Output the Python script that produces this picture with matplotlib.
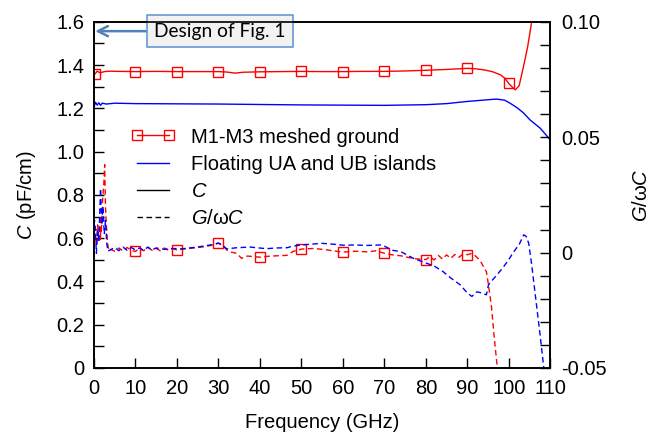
import matplotlib
matplotlib.use("Agg")
import matplotlib.pyplot as plt
from matplotlib.lines import Line2D

plt.rcParams['font.family'] = ['Liberation Sans', 'DejaVu Sans']
plt.rcParams['mathtext.fontset'] = 'custom'
plt.rcParams['mathtext.it'] = 'Liberation Sans:italic'
plt.rcParams['mathtext.rm'] = 'Liberation Sans'

# ---------------- data ----------------
# C of M1-M3 meshed ground (pF/cm)
f_mc = [0.3, 0.8, 1.5, 2.5, 4, 6, 10, 15, 20, 25, 30, 32, 34, 36, 40, 45, 50, 55, 60, 65,
        70, 75, 80, 85, 90, 92, 94, 96, 98, 99, 100, 101, 101.6, 102.5, 103.5, 104.5, 105.6]
c_mc = [1.360, 1.372, 1.364, 1.370, 1.372, 1.371, 1.370, 1.371, 1.370, 1.370, 1.370, 1.368,
        1.363, 1.367, 1.369, 1.370, 1.371, 1.370, 1.370, 1.371, 1.371, 1.373, 1.376, 1.380,
        1.385, 1.383, 1.378, 1.370, 1.355, 1.340, 1.315, 1.295, 1.286, 1.305, 1.390, 1.480, 1.610]

# C of floating UA and UB islands (pF/cm)
f_fc = [0.0, 0.4, 0.8, 1.2, 1.6, 2.0, 3, 5, 10, 20, 30, 40, 50, 60, 70, 80, 85, 90, 95, 97,
        99, 100.3, 102, 103.6, 105.1, 107.6, 110]
c_fc = [1.205, 1.228, 1.215, 1.226, 1.214, 1.224, 1.220, 1.224, 1.222, 1.221, 1.220, 1.218,
        1.216, 1.215, 1.214, 1.217, 1.222, 1.232, 1.240, 1.243, 1.238, 1.224, 1.203, 1.178,
        1.147, 1.108, 1.054]

# G/wC of M1-M3 meshed ground
f_mg = [0.0, 0.3, 0.6, 0.9, 1.2, 1.5, 1.8, 2.1, 2.4, 2.6, 2.8, 3.0, 3.3, 3.6, 4, 5, 6, 7, 8, 9,
        10, 11, 12, 13, 14, 15, 16, 17, 18, 19, 20, 22, 24, 26, 28, 30, 31, 32, 33, 34.4, 35.6,
        37, 40, 42, 44, 46.5, 48, 50, 53, 56, 60, 63, 66, 68, 70, 72, 74, 76, 78, 80, 81, 82,
        83, 84, 85, 86, 87, 88, 89, 90, 91, 92, 93.1, 94.6, 95.1, 95.8, 96.5, 97.3]
g_mg = [0.0060, 0.0081, 0.0030, 0.0120, 0.0050, 0.0160, 0.0085, 0.0230, 0.0300, 0.0381,
        0.0200, 0.0120, 0.0040, 0.0008, 0.0014, 0.0006, 0.0020, 0.0008, 0.0022, 0.0010,
        0.0005, 0.0018, 0.0008, 0.0022, 0.0010, 0.0018, 0.0008, 0.0020, 0.0010, 0.0016,
        0.0012, 0.0016, 0.0020, 0.0024, 0.0030, 0.0040, 0.0032, 0.0012, 0.0002, -0.0003,
        -0.0025, -0.0015, -0.0020, -0.0016, -0.0014, -0.0012, 0.0005, 0.0015, 0.0018, 0.0012,
        0.0002, 0.0006, 0.0003, 0.0008, -0.0003, -0.0010, -0.0014, -0.0022, -0.0028, -0.0030,
        -0.0018, -0.0032, -0.0012, -0.0028, -0.0010, -0.0025, -0.0008, -0.0020, -0.0006,
        -0.0009, -0.0004, -0.0015, -0.0035, -0.0083, -0.0140, -0.0230, -0.0370, -0.0510]

# G/wC of floating UA and UB islands
f_fg = [0.0, 0.3, 0.6, 0.9, 1.2, 1.6, 1.9, 2.2, 2.5, 2.8, 3.1, 3.4, 4, 5, 6, 7, 8, 9, 10, 11,
        12, 13, 14, 15, 17, 19, 21, 23, 25, 27, 29, 30, 31, 32, 34.4, 37.6, 41.6, 44, 46.5, 48,
        50, 52, 55, 58, 60, 63, 66, 69, 70, 72, 74, 77, 80, 82, 84.2, 86, 88.3, 90, 91.1, 92.3,
        93.5, 94.6, 95.1, 96, 97, 98.8, 100, 101.2, 102.5, 103.6, 104.2, 104.8, 105.5, 106.5,
        107.5, 108.5]
g_fg = [0.0156, 0.0120, -0.0003, 0.0100, 0.0050, 0.0278, 0.0120, 0.0200, 0.0080, 0.0140,
        0.0040, 0.0006, 0.0012, 0.0022, 0.0008, 0.0024, 0.0010, 0.0022, 0.0012, 0.0020,
        0.0010, 0.0024, 0.0012, 0.0020, 0.0014, 0.0018, 0.0016, 0.0020, 0.0024, 0.0030,
        0.0036, 0.0042, 0.0032, 0.0016, 0.0021, 0.0024, 0.0017, 0.0020, 0.0021, 0.0028,
        0.0033, 0.0036, 0.0040, 0.0036, 0.0032, 0.0033, 0.0031, 0.0033, 0.0028, 0.0010,
        0.0004, -0.0025, -0.0045, -0.0058, -0.0083, -0.0110, -0.0140, -0.0175, -0.0190,
        -0.0170, -0.0175, -0.0183, -0.0140, -0.0120, -0.0100, -0.0060, -0.0030, 0.0004,
        0.0035, 0.0077, 0.0070, 0.0040, -0.0050, -0.0200, -0.0350, -0.0510]

marker_freqs = [0.3, 10, 20, 30, 40, 50, 60, 70, 80, 90, 100]

series_labels = ["M1-M3 meshed ground", "Floating UA and UB islands", "$C$", "$G$/\u03c9$C$"]
x_ticks = list(range(0, 111, 10))
c_ticks = [0, 0.2, 0.4, 0.6, 0.8, 1.0, 1.2, 1.4, 1.6]
c_tick_labels = ["0", "0.2", "0.4", "0.6", "0.8", "1.0", "1.2", "1.4", "1.6"]
g_ticks = [-0.05, 0, 0.05, 0.10]
g_tick_labels = ["-0.05", "0", "0.05", "0.10"]


def mark_idx(freqs):
    return [i for i, f in enumerate(freqs) if f in marker_freqs]


RED = '#ff0000'
BLUE = '#0000ff'
FS = 14.5

fig = plt.figure(figsize=(6.52, 4.37), dpi=100)
ax = fig.add_axes([0.144, 0.158, 0.700, 0.792])
ax2 = ax.twinx()

mk = dict(marker='s', markersize=6.5, markerfacecolor='none', markeredgewidth=1.0)
ax.plot(f_mc, c_mc, color=RED, lw=1.0, markevery=mark_idx(f_mc), **mk)
ax.plot(f_fc, c_fc, color=BLUE, lw=1.0)
ax2.plot(f_mg, g_mg, color=RED, lw=1.0, dashes=(4, 2.5), markevery=mark_idx(f_mg), **mk)
ax2.plot(f_fg, g_fg, color=BLUE, lw=1.0, dashes=(4, 2.5))

ax.set_xlim(0, 110)
ax.set_ylim(0, 1.6)
ax2.set_ylim(-0.05, 0.10)

ax.set_xticks(x_ticks)
ax.set_yticks(c_ticks)
ax.set_yticklabels(c_tick_labels)
ax.set_yticks([0.1, 0.3, 0.5, 0.7, 0.9, 1.1, 1.3, 1.5], minor=True)
ax2.set_yticks(g_ticks)
ax2.set_yticklabels(g_tick_labels)
ax2.set_yticks([-0.04, -0.03, -0.02, -0.01, 0.01, 0.02, 0.03, 0.04,
                0.06, 0.07, 0.08, 0.09], minor=True)

ax.tick_params(axis='x', direction='in', length=7, width=1, labelsize=FS, pad=8, top=False)
ax.tick_params(axis='y', which='major', direction='in', length=7, width=1, labelsize=FS, pad=7)
ax.tick_params(axis='y', which='minor', direction='in', length=7, width=1)
ax2.tick_params(axis='y', which='major', direction='in', length=7, width=1, labelsize=FS, pad=8)
ax2.tick_params(axis='y', which='minor', direction='in', length=7, width=1)
for a in (ax, ax2):
    for s in a.spines.values():
        s.set_linewidth(1.2)

ax.set_xlabel("Frequency (GHz)", fontsize=FS, labelpad=11)
ax.set_ylabel("$C$ (pF/cm)", fontsize=FS, labelpad=13)
ax2.set_ylabel("$G$/\u03c9$C$", fontsize=FS, labelpad=18)

handles = [
    Line2D([], [], color=RED, lw=1.0, marker='s', markersize=6.5, markerfacecolor='none'),
    Line2D([], [], color=BLUE, lw=1.0),
    Line2D([], [], color='black', lw=1.0),
    Line2D([], [], color='black', lw=1.0, dashes=(4, 2.5)),
]
leg = ax2.legend(handles, series_labels, loc='upper left', bbox_to_anchor=(0.064, 0.718),
                 frameon=False, fontsize=FS, numpoints=2, handlelength=2.2,
                 handletextpad=0.75, labelspacing=0.4, borderaxespad=0)

ax.annotate("Design of Fig. 1", xy=(0.3, 1.557), xytext=(30.4, 1.557),
            xycoords='data', textcoords='data', ha='center', va='center',
            fontsize=13.75, family='Lato', annotation_clip=False,
            bbox=dict(boxstyle='square,pad=0.38', fc='#f2f2f2', ec='#6a98d4', lw=1.2),
            arrowprops=dict(arrowstyle='->', color='#4f81bd', lw=1.8, shrinkA=0, shrinkB=0,
                            mutation_scale=18),
            zorder=10)

fig.savefig("out.png", dpi=100)
